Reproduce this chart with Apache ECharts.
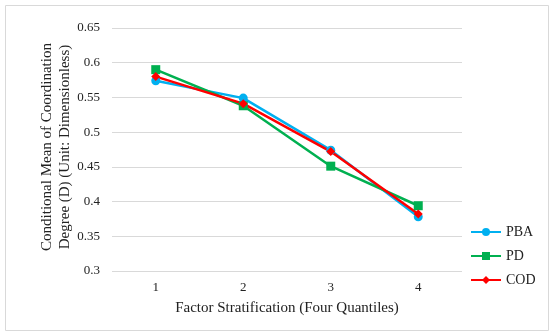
<!DOCTYPE html>
<html><head><meta charset="utf-8">
<script src="https://cdn.jsdelivr.net/npm/echarts@6/dist/echarts.min.js"></script>
<style>html,body{margin:0;padding:0;background:#fff}#c{width:550px;height:332px}</style>
</head><body><div id="c"></div>
<script>
const categories = ['1', '2', '3', '4'];
const pba = [0.574, 0.549, 0.474, 0.378];
const pd = [0.590, 0.538, 0.451, 0.394];
const cod = [0.580, 0.541, 0.472, 0.382];
const yTitle = 'Conditional Mean of Coordination\nDegree (D) (Unit: Dimensionless)';
const xTitle = 'Factor Stratification (Four Quantiles)';

const font = '"Liberation Serif", "Times New Roman", serif';
const chart = echarts.init(document.getElementById('c'));
function s(name, data, color, symbol, size) {
  return {
    name, type: 'line', data, symbol, symbolSize: size,
    lineStyle: { color, width: 2.5 },
    itemStyle: { color },
    emphasis: { disabled: true }
  };
}
chart.setOption({
  animation: false,
  textStyle: { fontFamily: font },
  grid: { left: 112, right: 88, top: 28, bottom: 61 },
  xAxis: {
    type: 'category', data: categories, boundaryGap: true,
    axisLine: { show: false }, axisTick: { show: false },
    axisLabel: { color: '#222', fontFamily: font, fontSize: 13, margin: 10 },
    name: xTitle, nameLocation: 'middle', nameGap: 30,
    nameTextStyle: { color: '#222', fontFamily: font, fontSize: 15 }
  },
  yAxis: {
    type: 'value', min: 0.3, max: 0.65, interval: 0.05,
    axisLine: { show: false }, axisTick: { show: false },
    axisLabel: { color: '#222', fontFamily: font, fontSize: 13, margin: 12,
      formatter: v => String(Math.round(v * 100) / 100) },
    splitLine: { lineStyle: { color: '#d9d9d9', width: 1 } }
  },
  legend: {
    orient: 'vertical', left: 470, top: 225, itemGap: 10, padding: 0,
    itemWidth: 30, itemHeight: 10,
    textStyle: { color: '#222', fontFamily: font, fontSize: 14 },
    data: ['PBA', 'PD', 'COD']
  },
  graphic: [
    { type: 'rect', left: 3, top: 3, shape: { width: 543, height: 325 },
      style: { fill: 'none', stroke: '#d9d9d9', lineWidth: 1 } },
    { type: 'text', x: 56, y: 147, rotation: Math.PI / 2,
      style: { text: yTitle, font: '15px ' + font, fill: '#222',
        align: 'center', verticalAlign: 'middle', lineHeight: 18 } }
  ],
  series: [
    s('PBA', pba, '#00B0F0', 'circle', 9),
    s('PD', pd, '#00B050', 'rect', 9),
    s('COD', cod, '#FF0000', 'diamond', 9)
  ]
});
</script></body></html>
